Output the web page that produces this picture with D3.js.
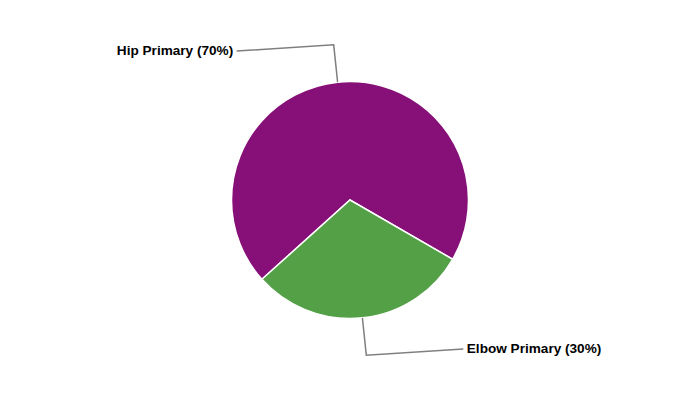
<!DOCTYPE html>
<html>
<head>
<meta charset="utf-8">
<script src="https://cdn.jsdelivr.net/npm/d3@7"></script>
<style>
  body { margin: 0; background: #fff; }
  svg text { font-family: "Liberation Sans", Arial, sans-serif; font-weight: bold; font-size: 13.6px; fill: #000; }
</style>
</head>
<body>
<div id="chart"></div>
<script>
const categories = ['Hip Primary', 'Elbow Primary'];
const values = [70, 30];
const colors = ['#861078', '#54a046'];

const width = 700, height = 400;
const cx = 350, cy = 200, radius = 118.5;
const outerLabelR = 156;

const svg = d3.select('#chart')
    .append('svg')
    .attr('width', width)
    .attr('height', height);

const data = categories.map((c, i) => ({ name: c, value: values[i], color: colors[i] }));
const total = d3.sum(values);

// hip slice ends at 4 o'clock-ish, so start it at -132deg
const pie = d3.pie()
    .sort(null)
    .value(d => d.value)
    .startAngle(-132 * Math.PI / 180)
    .endAngle(228 * Math.PI / 180);

const arcs = pie(data);
const arc = d3.arc().innerRadius(0).outerRadius(radius);

const g = svg.append('g').attr('transform', `translate(${cx},${cy})`);

g.selectAll('path.slice')
    .data(arcs)
    .enter()
        .append('path')
        .attr('class', 'slice')
        .attr('d', arc)
        .attr('fill', d => d.data.color)
        .attr('stroke', '#fff')
        .attr('stroke-width', 1.5);

function polar(r, a) { return [r * Math.sin(a), -r * Math.cos(a)]; }

arcs.forEach(d => {
    const mid = (d.startAngle + d.endAngle) / 2;
    const p0 = polar(radius, mid);
    const p1 = polar(outerLabelR, mid);
    const right = Math.sin(mid) > 0;
    const lx = right ? 113.3 : -113.3;
    const ly = p1[1] * 0.96;

    g.append('polyline')
        .attr('points', [p0, p1, [lx, ly]].map(p => p.join(',')).join(' '))
        .attr('fill', 'none')
        .attr('stroke', '#7f7f7f')
        .attr('stroke-width', 1.5);

    g.append('text')
        .attr('x', lx + (right ? 3.5 : -3.5))
        .attr('y', ly)
        .attr('dy', '0.3em')
        .attr('text-anchor', right ? 'start' : 'end')
        .text(`${d.data.name} (${Math.round(d.data.value / total * 100)}%)`);
});
</script>
</body>
</html>
